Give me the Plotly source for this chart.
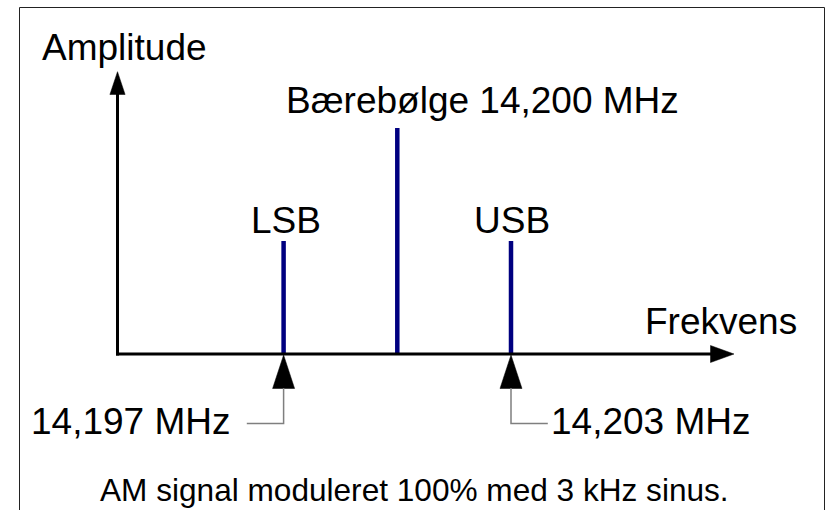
import plotly.graph_objects as go

# ---------------- data ----------------
freqs_mhz = [14.197, 14.200, 14.203]          # LSB, carrier, USB
amplitudes = [0.5, 1.0, 0.5]                  # relative amplitude (100 % AM)
line_labels = ["LSB", "Bærebølge 14,200 MHz", "USB"]
sideband_freqs = [14.197, 14.203]
sideband_freq_labels = ["14,197 MHz", "14,203 MHz"]
x_title = "Frekvens"
y_title = "Amplitude"
caption = "AM signal moduleret 100% med 3 kHz sinus."

# ---------------- layout geometry ----------------
W, H = 827, 510
CARRIER_F = freqs_mhz[1]
CARRIER_PX = 397.3
PX_PER_MHZ = 113.7 / 0.003
ZERO_PY = 354.0
PX_PER_AMP = 226.0


def x_of(px):
    return CARRIER_F + (px - CARRIER_PX) / PX_PER_MHZ


def y_of(py):
    return (ZERO_PY - py) / PX_PER_AMP


def dx(px):
    return px / PX_PER_MHZ


def dy(px):
    return px / PX_PER_AMP


def path(points, close=False):
    s = "M " + " L ".join(f"{x:.9f},{y:.9f}" for x, y in points)
    return s + (" Z" if close else "")


FONT = "Liberation Sans, Arial, sans-serif"
LINE_COLOR = "#000080"

fig = go.Figure()

# spectral lines
for f, a in zip(freqs_mhz, amplitudes):
    fig.add_trace(go.Scatter(x=[f, f], y=[0, a], mode="lines",
                             line=dict(color=LINE_COLOR, width=4.5),
                             hoverinfo="skip", showlegend=False))

shapes = []
# axes
x_axis_px = 117.5
shapes.append(dict(type="line", xref="x", yref="y",
                   x0=x_of(x_axis_px), x1=x_of(x_axis_px),
                   y0=y_of(355.4), y1=y_of(93),
                   line=dict(color="black", width=3)))
shapes.append(dict(type="line", xref="x", yref="y",
                   x0=x_of(116), x1=x_of(712),
                   y0=0, y1=0,
                   line=dict(color="black", width=3)))
# axis arrowheads
xa = x_of(x_axis_px)
shapes.append(dict(type="path", xref="x", yref="y",
                   path=path([(xa, y_of(71.7)), (xa - dx(7.6), y_of(94.5)),
                              (xa + dx(7.6), y_of(94.5))], True),
                   fillcolor="black", line=dict(color="black", width=0.5)))
shapes.append(dict(type="path", xref="x", yref="y",
                   path=path([(x_of(734), 0), (x_of(710.5), dy(8.5)),
                              (x_of(710.5), -dy(8.5))], True),
                   fillcolor="black", line=dict(color="black", width=0.5)))

# sideband frequency pointers
for i, f in enumerate(sideband_freqs):
    shapes.append(dict(type="path", xref="x", yref="y",
                       path=path([(f, -dy(1)), (f - dx(11), y_of(388.5)),
                                  (f + dx(11), y_of(388.5))], True),
                       fillcolor="black", line=dict(color="black", width=0.5)))
    side = -1 if f < CARRIER_F else 1
    shapes.append(dict(type="path", xref="x", yref="y",
                       path=path([(f, y_of(388)), (f, y_of(423.5)),
                                  (f + side * dx(36.8), y_of(423.5))]),
                       line=dict(color="#7f7f7f", width=1.5)))

# frame (left, top, right; open at the bottom)
fl, ft, fr = 19.5 / W, 1 - 7.5 / H, 824.5 / W
shapes.append(dict(type="path", xref="paper", yref="paper",
                   path=f"M {fl},-0.05 L {fl},{ft} L {fr},{ft} L {fr},-0.05",
                   line=dict(color="#222222", width=1)))

annotations = []


def label(x, y, text, size=37):
    annotations.append(dict(x=x, y=y, xref="x", yref="y", text=text,
                            showarrow=False, xanchor="center", yanchor="middle",
                            font=dict(family=FONT, size=size, color="black")))


# baseline -> middle: center = baseline - 0.3465*size
label(x_of(124.5), y_of(60 - 0.3465 * 37), y_title)
label(x_of(721), y_of(334 - 0.3465 * 37), x_title)
label(x_of(482.5), y_of(113 - 0.3465 * 37), line_labels[1])
label(freqs_mhz[0] + dx(2.5), y_of(233 - 0.3465 * 37), line_labels[0])
label(freqs_mhz[2] + dx(0.5), y_of(233 - 0.3465 * 37), line_labels[2])
label(x_of(131), y_of(434 - 0.3465 * 37), sideband_freq_labels[0])
label(x_of(650.5), y_of(434 - 0.3465 * 37), sideband_freq_labels[1])
label(x_of(414), y_of(500.7 - 0.3465 * 31.6), caption, size=31.6)

fig.update_layout(
    width=W, height=H, autosize=False,
    margin=dict(l=0, r=0, t=0, b=0, pad=0),
    paper_bgcolor="white", plot_bgcolor="white",
    xaxis=dict(range=[x_of(0), x_of(W)], visible=False, fixedrange=True),
    yaxis=dict(range=[y_of(H), y_of(0)], visible=False, fixedrange=True),
    shapes=shapes, annotations=annotations, showlegend=False,
)

fig.write_html("out.html", config={"displayModeBar": False},
               post_script="document.body.style.margin='0';"
                           "document.body.style.overflow='hidden';")
